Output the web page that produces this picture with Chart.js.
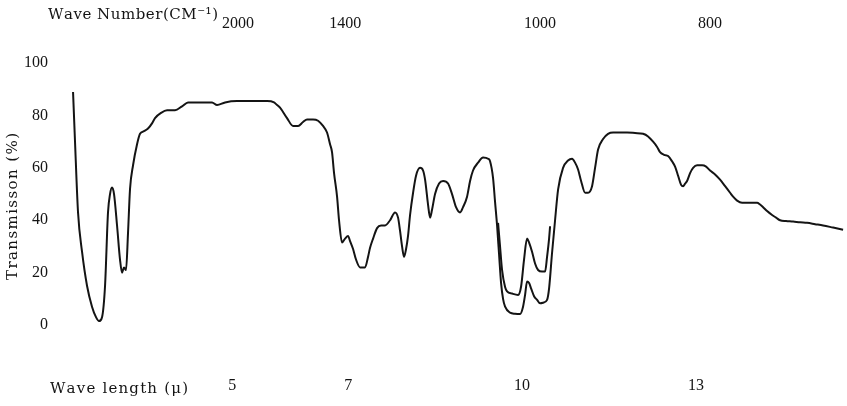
<!DOCTYPE html>
<html>
<head>
<meta charset="utf-8">
<script src="https://cdn.jsdelivr.net/npm/chart.js@4.4.1/dist/chart.umd.min.js"></script>
<style>
  html, body { margin: 0; padding: 0; background: #fff; }
  #wrap { width: 847px; height: 406px; }
</style>
</head>
<body>
<div id="wrap"><canvas id="chart" width="847" height="406"></canvas></div>
<script>
// wave length (micron) and transmission (%)
const wavelength = [
  2.255, 2.289, 2.341, 2.410, 2.496, 2.582, 2.651, 2.703, 2.755, 2.807,
  2.858, 2.893, 2.927, 2.962, 3.014, 3.065, 3.100, 3.134, 3.169, 3.203,
  3.238, 3.290, 3.359, 3.410, 3.479, 3.548, 3.617, 3.669, 3.773, 3.876,
  4.014, 4.135, 4.238, 4.445, 4.652, 4.739, 4.877, 5.084, 5.342, 5.601,
  5.722, 5.774, 5.825, 5.946, 6.050, 6.136, 6.222, 6.291, 6.395, 6.481,
  6.567, 6.636, 6.688, 6.722, 6.757, 6.809, 6.843, 6.895, 6.947, 6.998,
  7.033, 7.085, 7.136, 7.205, 7.292, 7.343, 7.378, 7.430, 7.499, 7.568,
  7.637, 7.723, 7.809, 7.861, 7.895, 7.930, 7.964, 7.999, 8.033, 8.068,
  8.120, 8.171, 8.240, 8.292, 8.327, 8.378, 8.413, 8.447, 8.499, 8.568,
  8.637, 8.723, 8.792, 8.861, 8.930, 8.982, 9.051, 9.103, 9.154, 9.241,
  9.327, 9.414, 9.448, 9.500, 9.534, 9.569, 9.603, 9.638, 9.672, 9.707,
  9.793, 9.879, 9.965, 10.017, 10.052, 10.086, 10.121, 10.155, 10.207, 10.259,
  10.310, 10.362, 10.431, 10.466, 10.517, 10.569, 10.621, 10.707, 10.793, 10.862,
  10.914, 10.966, 11.018, 11.087, 11.138, 11.207, 11.259, 11.311, 11.397, 11.483,
  11.570, 11.690, 11.811, 11.949, 12.087, 12.173, 12.260, 12.329, 12.380, 12.449,
  12.518, 12.587, 12.639, 12.691, 12.743, 12.777, 12.812, 12.846, 12.898, 12.950,
  13.019, 13.105, 13.174, 13.243, 13.329, 13.415, 13.502, 13.588, 13.640, 13.709,
  13.795, 13.933, 14.054, 14.105, 14.157, 14.226, 14.312, 14.381, 14.450, 14.554,
  14.675, 14.795, 14.916, 15.054, 15.192, 15.365, 15.537
]
const transmission = [
  89, 70, 43, 28, 15, 7, 3, 1.5, 3, 15,
  43, 50, 52.5, 50, 38, 25, 20, 22, 21, 35,
  52, 61, 69, 73, 74, 75, 77, 79, 81, 82,
  82, 83.5, 85, 85, 85, 84, 85, 85.5, 85.5, 85.5,
  85, 84, 83, 79, 76, 76, 77.5, 78.5, 78.5, 78,
  76, 73.5, 69, 66, 58, 49, 40, 31.5, 33, 34,
  32, 29, 25, 22, 22, 26, 29.5, 33, 37, 38,
  38, 40, 43, 41, 36, 30, 26, 29, 34, 42,
  50.5, 57, 60, 59, 55.5, 46, 41, 44, 50, 54,
  55, 54, 50, 45, 43, 45, 49, 55, 59, 62,
  64, 63.5, 62.5, 56, 47, 38, 27, 16, 10, 7,
  4.7, 4.3, 4.2, 7, 11.5, 16.6, 16, 14, 11, 9.6,
  8.3, 8.5, 9.6, 14, 27.5, 40, 51.7, 60, 62.8, 63.5,
  62, 59.4, 55, 50.5, 50.5, 53, 60, 67, 71, 73,
  73.5, 73.5, 73.5, 73.3, 73, 72, 70, 68, 66, 65,
  64.5, 62.5, 60.5, 57, 53.5, 53, 54, 55, 58, 60,
  61, 61, 60.5, 59, 57.5, 55.5, 53, 50.5, 49, 47.5,
  46.7, 46.7, 46.7, 46, 45, 43.5, 42, 41, 40, 39.7,
  39.5, 39.2, 39, 38.5, 38, 37.2, 36.4
]

// second (repeat) trace around 10 micron
const repeatWavelength = [9.586, 9.620, 9.655, 9.707, 9.741, 9.827, 9.931, 9.983, 10.034, 10.086,
  10.121, 10.172, 10.224, 10.276, 10.345, 10.397, 10.431, 10.466, 10.483]
const repeatTransmission = [39, 30, 21, 14.5, 12.8, 12, 11.5, 14.7, 25, 33,
  31.5, 28, 23.5, 21, 20.4, 20.4, 26, 33, 37.7]

const lengthTicks = [5, 7, 10, 13]
const waveNumberLabels = [2000, 1400, 1000, 800]
const waveNumberLabelAt = [5.10, 6.95, 10.31, 13.24]   // where the sheet prints them (micron)
const transTicks = [0, 20, 40, 60, 80, 100]

const serif = "'Liberation Serif', 'DejaVu Serif', serif"
const titleSerif = "'DejaVu Serif', 'Liberation Serif', serif"
const ink = '#141414'

function spacedText(ctx, text, x, y, width) {
    const chars = [...text]
    const natural = chars.reduce((s, c) => s + ctx.measureText(c).width, 0)
    const gap = chars.length > 1 ? (width - natural) / (chars.length - 1) : 0
    let cx = x
    chars.forEach(c => {
        ctx.fillText(c, cx, y)
        cx += ctx.measureText(c).width + gap
    })
}

const axisTitles = {
    id: 'axisTitles',
    afterDraw(chart) {
        const ctx = chart.ctx
        ctx.save()
        ctx.fillStyle = ink
        ctx.textBaseline = 'middle'
        ctx.textAlign = 'left'
        ctx.font = '15px ' + titleSerif
        spacedText(ctx, 'Wave Number(CM⁻¹)', 48, 15, 170)
        spacedText(ctx, 'Wave length (μ)', 50, 389, 138)
        ctx.translate(13, 207)
        ctx.rotate(-Math.PI / 2)
        spacedText(ctx, 'Transmisson (%)', -73, 0, 147)
        ctx.restore()
    }
}

const tickFont = { family: serif, size: 16 }

const ctx = document.getElementById('chart').getContext('2d')

new Chart(ctx, {
    type: 'line',
    data: {
        datasets: [{
            data: wavelength.map((w, i) => ({ x: w, y: transmission[i] })),
            borderColor: ink,
            borderWidth: 2,
            pointRadius: 0,
            cubicInterpolationMode: 'monotone',
            fill: false
        }, {
            data: repeatWavelength.map((w, i) => ({ x: w, y: repeatTransmission[i] })),
            borderColor: ink,
            borderWidth: 2,
            pointRadius: 0,
            cubicInterpolationMode: 'monotone',
            fill: false
        }]
    },
    options: {
        responsive: false,
        animation: false,
        layout: { padding: { left: 0, right: 2, top: 0, bottom: 0 } },
        plugins: { legend: { display: false }, tooltip: { enabled: false } },
        scales: {
            x: {
                type: 'linear', position: 'bottom', min: 2.03, max: 15.57,
                afterBuildTicks: s => { s.ticks = lengthTicks.map(v => ({ value: v })) },
                afterFit: s => { s.height = 37 },
                grid: { display: false, drawTicks: false },
                border: { display: false },
                ticks: { font: tickFont, color: ink, padding: 7, maxRotation: 0, autoSkip: false }
            },
            x2: {
                type: 'linear', position: 'top', min: 2.03, max: 15.57,
                afterBuildTicks: s => { s.ticks = waveNumberLabelAt.map(v => ({ value: v })) },
                afterFit: s => { s.height = 33 },
                grid: { display: false, drawTicks: false },
                border: { display: false },
                ticks: {
                    font: tickFont, color: ink, padding: 0, maxRotation: 0, autoSkip: false,
                    callback: (v, i) => waveNumberLabels[i]
                }
            },
            y: {
                min: -16.8, max: 111.5,
                afterBuildTicks: s => { s.ticks = transTicks.map(v => ({ value: v })) },
                afterFit: s => { s.width = 60 },
                grid: { display: false, drawTicks: false },
                border: { display: false },
                ticks: { font: tickFont, color: ink, padding: 12 }
            }
        }
    },
    plugins: [axisTitles]
})
</script>
</body>
</html>
